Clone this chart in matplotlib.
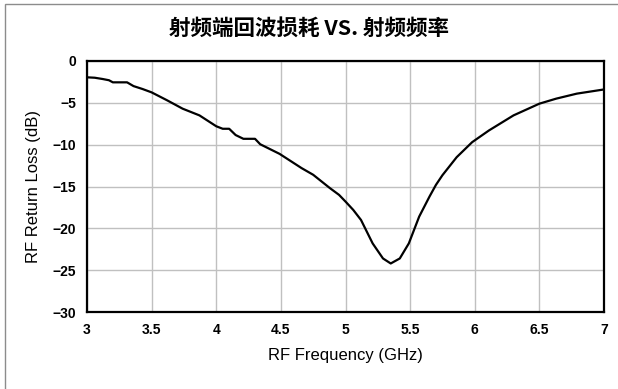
import matplotlib
matplotlib.use("Agg")
import matplotlib.pyplot as plt
from matplotlib.patches import Rectangle

# return loss curve (GHz, dB)
freq_ghz = [3.00, 3.06, 3.12, 3.17, 3.20, 3.31, 3.36, 3.43, 3.50, 3.62, 3.74,
            3.87, 4.00, 4.05, 4.10, 4.15, 4.21, 4.30, 4.34, 4.49, 4.66, 4.75,
            4.88, 4.95, 5.00, 5.06, 5.12, 5.21, 5.29, 5.35, 5.42, 5.49, 5.57,
            5.65, 5.70, 5.75, 5.86, 5.98, 6.11, 6.30, 6.50, 6.63, 6.79, 7.00]
return_loss_db = [-1.95, -2.0, -2.15, -2.3, -2.55, -2.55, -3.0, -3.35, -3.75,
                  -4.7, -5.7, -6.5, -7.8, -8.1, -8.1, -8.85, -9.3, -9.3, -9.95,
                  -11.1, -12.8, -13.6, -15.2, -16.0, -16.8, -17.8, -19.0,
                  -21.8, -23.6, -24.2, -23.6, -21.8, -18.6, -16.2, -14.8,
                  -13.65, -11.5, -9.7, -8.3, -6.5, -5.1, -4.5, -3.9, -3.4]

x_ticks = [3, 3.5, 4, 4.5, 5, 5.5, 6, 6.5, 7]
x_tick_labels = ["3", "3.5", "4", "4.5", "5", "5.5", "6", "6.5", "7"]
y_ticks = [0, -5, -10, -15, -20, -25, -30]

title = "射频端回波损耗 VS. 射频频率"
xlabel = "RF Frequency (GHz)"
ylabel = "RF Return Loss (dB)"

narrow = ["Liberation Sans Narrow", "Liberation Sans", "DejaVu Sans"]

fig = plt.figure(figsize=(6.18, 3.89), dpi=100)
fig.patches.append(Rectangle((5 / 618, -0.1), 1.2, 1 - 4.5 / 389 + 0.1,
                             transform=fig.transFigure, fill=False,
                             edgecolor="#8c8c8c", linewidth=1.0))

ax = fig.add_axes([87 / 618, 1 - 312 / 389, (604 - 87) / 618, (312 - 61) / 389])
ax.plot(freq_ghz, return_loss_db, color="black", linewidth=1.6)

ax.set_xlim(3, 7)
ax.set_ylim(-30, 0)
ax.set_xticks(x_ticks)
ax.set_xticklabels(x_tick_labels)
ax.set_yticks(y_ticks)
ax.grid(True, color="#c0c0c0", linewidth=1.0)
ax.tick_params(length=0, pad=8)
for lbl in ax.get_xticklabels() + ax.get_yticklabels():
    lbl.set_family(narrow)
    lbl.set_fontweight("bold")
    lbl.set_fontsize(10)
for sp in ax.spines.values():
    sp.set_linewidth(1.6)
    sp.set_color("black")

ax.set_xlabel(xlabel, family=narrow, fontsize=12, labelpad=8)
ax.set_ylabel(ylabel, family=narrow, fontsize=12, labelpad=8)

fig.text(0.5, 1 - 28 / 389, title, ha="center", va="center", fontsize=15.5,
         fontweight="bold", family=["Noto Sans CJK SC", "DejaVu Sans"])

fig.savefig("out.png", dpi=100)
